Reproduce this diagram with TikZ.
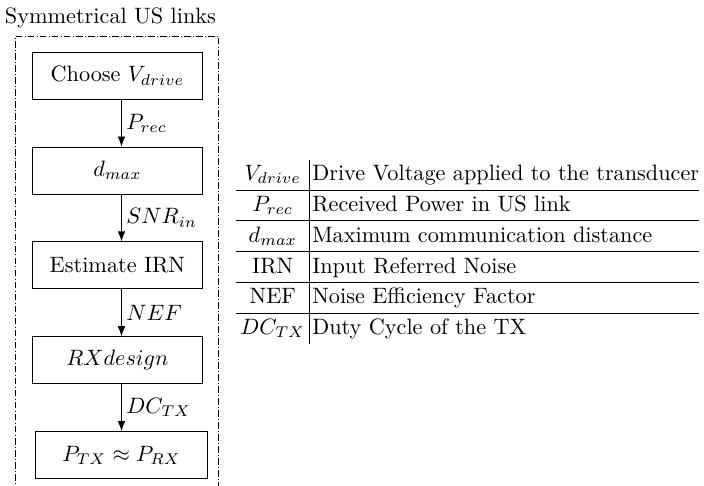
\documentclass[tikz,border=0pt]{standalone}
\usepackage{amsmath, amssymb}
\usepackage{xcolor}
\usepackage{tikz}
\usetikzlibrary{positioning, arrows.meta}

\begin{document}
\begin{tikzpicture}[
    stage/.style={draw, minimum width=2.70cm, minimum height=0.742cm, inner sep=2pt},
    flow/.style={-{Latex[length=1.6mm, width=1.2mm]}},
    node distance=0.742cm
]
\useasboundingbox (0,0) rectangle (11.12,7.67);
\node at (1.745,7.39) (title) {Symmetrical US links};
\draw[densely dashdotted] (0.237,-0.3) rectangle (3.458,7.09);

\node[stage] at (1.855,6.474) (vdrive) {Choose $V_{drive}$};
\node[stage, below=of vdrive] (dmax) {$d_{max}$};
\node[stage, below=of dmax] (irn) {Estimate IRN};
\node[stage, below=of irn] (rxd) {$RXdesign$};
\node[stage, below=of rxd, xshift=0.064cm, minimum width=2.73cm] (ptx) {$P_{TX} \approx P_{RX}$};

\draw[flow] (vdrive.south -| ptx) -- node[right, inner sep=2pt] {$P_{rec}$} (dmax.north -| ptx);
\draw[flow] (dmax.south -| ptx) -- node[right, inner sep=2pt] {$SNR_{in}$} (irn.north -| ptx);
\draw[flow] (irn.south -| ptx) -- node[right, inner sep=2pt] {$NEF$} (rxd.north -| ptx);
\draw[flow] (rxd.south -| ptx) -- node[right, inner sep=2pt] {$DC_{TX}$} (ptx.north);

% glossary
\node[anchor=west, inner sep=0pt] at (3.72,3.695) (gloss) {%
    \setlength{\tabcolsep}{2pt}\renewcommand{\arraystretch}{1.12}%
    \begin{tabular}{c|@{\hspace{1pt}}l@{}}
    $V_{drive}$ & Drive Voltage applied to the transducer \\ \hline
    $P_{rec}$ & Received Power in US link \\ \hline
    $d_{max}$ & Maximum communication distance \\ \hline
    IRN & Input Referred Noise \\ \hline
    NEF & Noise Efficiency Factor \\ \hline
    $DC_{TX}$ & Duty Cycle of the TX
    \end{tabular}};
\end{tikzpicture}
\end{document}
